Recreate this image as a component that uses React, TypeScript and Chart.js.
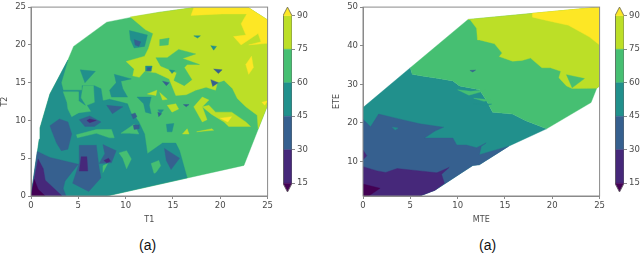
import React, { useEffect, useRef } from "react";
import { Chart, registerables } from "chart.js";

Chart.register(...registerables);

type P = [number, number];

const C15 = "#440154";
const C30 = "#46287a";
const C45 = "#36608f";
const C60 = "#21908c";
const C75 = "#46bf72";
const C90 = "#bcdf27";
const C99 = "#fde725";

const levels = [15, 30, 45, 60, 75, 90];
const bandColors = [C30, C45, C60, C75, C90];
const xTicks = [0, 5, 10, 15, 20, 25];
const leftYTicks = [0, 5, 10, 15, 20, 25];
const rightYTicks = [10, 20, 30, 40, 50];

// ---- left panel contours (T1, T2)
const lHull: P[] = [[0,0],[0.87,7.5],[0.95,9],[2,13.5],[3.9,18],[4.5,19.8],[8,23],[10.8,23.7],[13.5,24.3],[17,24.9],[23,24.9],[25,23.3],[25,12],[22.5,4.05],[8,0]];
const lLime: P[] = [[10.5,23.7],[13.5,24.3],[17,24.9],[23,24.9],[25,23.3],[25,12],[24,8.9],[23.9,10.7],[22.7,11.8],[21.8,12.9],[21.3,14.2],[20.4,15.3],[19.7,15],[19.5,14],[18.5,14.4],[17.4,14],[16.4,13.4],[15.3,13.3],[14.6,15.5],[13.2,16.3],[12,16.5],[11.45,15.7],[10.75,15.9],[10.9,16.8],[10.05,17.8],[12,18.5],[12.4,19.5],[12.9,21.5],[12.1,22]];
const lYellow: P[] = [[17.2,24.9],[16.9,23.9],[20.2,24.1],[22.8,24.1],[22.2,22.8],[22.7,21.3],[21.4,21.1],[22.2,20],[24,21.5],[24.3,20.4],[23,20],[25,20.2],[25,23.3],[23,24.9]];
const lYellowA: P[] = [[22.7,17.4],[23.3,18.5],[23.5,17],[23,16.1]];
const lYellowB: P[] = [[24.4,12.4],[25,12.6],[24.7,12]];
const lYellowC: P[] = [[20,10.3],[21.2,10.5],[20.8,9.8]];
const lTeal: P[] = [[0,0],[0.87,7.5],[0.95,9],[2,13.5],[3.9,18],[3.2,15],[3.4,14],[5.4,14],[5.4,14.6],[6.7,14.6],[7.4,14.2],[7.6,12.6],[8.3,12.8],[9.6,12.4],[10.2,12.2],[10.6,10.9],[10.9,10.7],[11.4,9.8],[12,8.2],[12.3,5.6],[13.9,7],[15.3,7],[15.7,6],[16.5,2.4],[8,0]];
const lTealPatchA: P[] = [[5.2,16.7],[6.8,16.5],[5.7,15]];
const lTealPatchB: P[] = [[8.8,16.1],[10.6,15.5],[9.5,15.2],[9.7,14.2],[10.2,13.1],[8.5,13.1],[8.3,14],[9,15]];
const lTealPatchC: P[] = [[10.4,21.9],[12.3,21.3],[12,19.8],[10.9,19.6],[10.5,20.7]];
const lTealPatchD: P[] = [[12.1,17.2],[12.8,17.2],[12.7,16.5],[12.1,16.5]];
const lTealPatchE: P[] = [[11.2,13.1],[12.7,13.1],[12.5,12],[12.7,10.9],[12.1,11.1],[11.9,12.2]];
const lTealPatchF: P[] = [[14.3,9.5],[15.1,9.6],[14.9,8.5],[14.4,8.5]];
const lTealPatchG: P[] = [[13.4,11.4],[14,11.4],[13.7,10.9]];
const lTealDotA: P[] = [[17.2,21.2],[17.9,21.2],[17.6,20.9]];
const lTealDotB: P[] = [[19,19.9],[19.6,19.8],[19.3,19.3]];
const lTealDotC: P[] = [[14.6,16.7],[15.2,16.6],[14.9,16.2]];
const lGreenA: P[] = [[3.4,13.8],[5,13.8],[5,12.6],[5.8,11.9],[5,11],[4.3,10.5],[3.9,11.5],[3.8,12.4]];
const lGreenB: P[] = [[5.5,14.6],[6.6,14.6],[6.7,12.4],[5.9,12],[6.3,11.2],[4.9,11],[5.8,12],[5.3,13]];
const lGreenC: P[] = [[4.8,8.1],[6.9,8.8],[8.5,8.8],[8.8,7.7],[8.3,7.7],[6.9,8.3],[4.9,7.7]];
const lGreenD: P[] = [[9.3,5.7],[10.1,6],[10.6,4.9],[10.1,3.6],[9.7,5]];
const lGreenE: P[] = [[12.7,4.3],[13.5,4.7],[13.7,4],[13.2,3.1],[13,3]];
const lGreenF: P[] = [[9.5,8.3],[10.9,9.5],[11.4,8.2],[10.4,8.3]];
const lGreenG: P[] = [[7.6,4],[8.1,4.3],[7.6,3.1]];
const lGreenH: P[] = [[13.6,20.7],[14.6,20.9],[14.5,20],[13.6,19.9]];
const lGreenI: P[] = [[13.2,18.3],[14.4,18.3],[15.6,19.4],[17.4,18.8],[16,18.2],[17.8,17.4],[16.5,17.4],[16.2,17],[17,15.4],[16.2,14.6],[15.1,15.3],[15.4,16.3],[13.7,17.2]];
const lLimeA: P[] = [[14.4,12],[15.3,12.2],[15.6,11.5],[14.9,11.1]];
const lLimeB: P[] = [[18.1,11.8],[18.8,12],[19.5,11.1],[21.2,11.1],[22.7,9.8],[23.2,9.2],[20.9,9.2],[20.4,9.8],[19.1,10.8]];
const lLimeC: P[] = [[12.3,13.5],[13.3,14],[13.2,13.3]];
const lLimeD: P[] = [[16,8.2],[16.5,8.9],[16.7,8.2]];
const lLimeE: P[] = [[17.5,8.5],[19.1,8.9],[19.3,8.7]];
const lLimeF: P[] = [[13.6,13.7],[14.4,12.8],[13.9,12.7]];
const lLimeG: P[] = [[18.1,13.1],[17.2,11.8],[18.1,9.8],[18.6,10.1],[18.1,11.8],[18.8,12.7]];
const lBlueA: P[] = [[2,9.3],[3,10.2],[3.9,9.8],[4.3,8.2],[3.9,6.2],[3.2,6],[2.7,7],[2.2,8.6]];
const lBlueB: P[] = [[5.1,6.7],[6.9,6.7],[7.2,3.7],[7.4,2.4],[6.1,0.6],[4.4,1.7],[5.1,4.4]];
const lBlueC: P[] = [[0.66,5.9],[2,5.1],[5,4.2],[3.6,2],[3.4,1],[3.7,0],[0,0]];
const lBlueD: P[] = [[7.6,6.8],[9,6],[8.5,4.4],[7.2,4.3],[7.8,5.6]];
const lBlueE: P[] = [[5.1,10.1],[6.2,10.6],[7.4,9.8],[6.7,9.2],[5.7,9.2]];
const lBlueF: P[] = [[8,12],[9.7,11.8],[8.6,10.9]];
const lBlueG: P[] = [[10.9,20.7],[11.6,20.4],[11.4,19.8],[11,20]];
const lBlueH: P[] = [[12.3,17],[12.7,17],[12.6,16.6],[12.3,16.6]];
const lBlueI: P[] = [[10.6,10.8],[11,11],[11.2,10.5],[10.8,10.2]];
const lBlueI2: P[] = [[10.8,9.4],[11.4,9.4],[11.4,8.9],[10.9,8.8]];
const lBlueJ: P[] = [[14.1,6.3],[15.7,5],[14.8,3.5],[14.3,4.7]];
const lBlueK: P[] = [[19.3,16.8],[20.2,16.7],[19.8,16.2]];
const lBlueL: P[] = [[19,15.4],[19.8,15],[19.2,14.5]];
const lBlueM: P[] = [[13.9,15.2],[14.6,15],[14.3,14.6]];
const lBlueN: P[] = [[13.4,11.1],[13.8,10.9],[13.5,10.5]];
const lBlueO: P[] = [[16.1,12.1],[16.7,12.1],[16.4,11.8]];
const lPurpleA: P[] = [[5.3,5.2],[5.9,5.2],[6,3.3],[5.1,3.3]];
const lPurpleB: P[] = [[7.7,4.7],[8.2,5],[8.4,4.6],[8,4.4]];
const lPurpleC: P[] = [[5.9,10],[6.2,10.2],[6.9,10],[6.2,9.7]];
const lPurpleD: P[] = [[0,0],[0.75,4.9],[1.3,3.6],[1.5,2.1],[3.2,0.1],[3.2,0]];
const lDark: P[] = [[0,0],[0.35,2.2],[0.75,0.9],[1.5,0]];

const leftLayers: [string, P[]][] = [
  [C75, lHull], [C90, lLime], [C99, lYellow], [C99, lYellowA], [C99, lYellowB],
  [C60, lTeal], [C60, lTealPatchA], [C60, lTealPatchB], [C60, lTealPatchC], [C60, lTealPatchD], [C60, lTealPatchE], [C60, lTealPatchF], [C60, lTealPatchG], [C60, lTealDotA], [C60, lTealDotB],
  [C75, lGreenA], [C75, lGreenB], [C75, lGreenC], [C75, lGreenD], [C75, lGreenE], [C75, lGreenF], [C75, lGreenG], [C75, lGreenH], [C75, lGreenI], [C60, lTealDotC],
  [C90, lLimeA], [C90, lLimeB], [C90, lLimeC], [C90, lLimeD], [C90, lLimeE], [C90, lLimeF], [C90, lLimeG], [C99, lYellowC],
  [C45, lBlueA], [C45, lBlueB], [C45, lBlueC], [C45, lBlueD], [C45, lBlueE], [C45, lBlueF], [C45, lBlueG], [C45, lBlueH], [C45, lBlueI], [C45, lBlueI2], [C45, lBlueJ], [C45, lBlueK], [C45, lBlueL], [C45, lBlueM], [C45, lBlueN], [C45, lBlueO],
  [C30, lPurpleA], [C30, lPurpleB], [C30, lPurpleC], [C30, lPurpleD], [C15, lDark],
];

// ---- right panel contours (MTE, ETE)
const rTeal: P[] = [[0,24],[5,34.3],[5.2,32.6],[6.4,32.1],[8,31.5],[9.5,30.9],[10.2,29.6],[12.3,28.6],[13,26],[13.7,22.8],[15.8,22.3],[17.2,20.6],[19.4,18.5],[15.4,14],[12.3,9.2],[11.6,9],[7.6,2.6],[6,1.1],[0,1.1]];
const rGreen: P[] = [[5,34.3],[11.1,46.8],[25,50],[25,29.6],[24.7,29],[24.1,25.3],[19.4,18.5],[17.2,20.6],[15.8,22.3],[13.7,22.8],[13,26],[12.3,28.6],[10.2,29.6],[9.5,30.9],[8,31.5],[6.4,32.1],[5.2,32.6]];
const rLime: P[] = [[11.1,46.8],[25,50],[25,29.6],[24.7,29],[22.1,28.9],[21.5,29.6],[20.7,31.7],[20.9,33.4],[19.8,34.3],[18.9,34.3],[17.7,36.8],[16.8,36.2],[15.8,36],[14.4,37.2],[14.7,38.1],[13.9,40.5],[12.3,41.5],[12.1,41.5],[12,44.5],[11.3,46.8]];
const rYellow: P[] = [[25,50],[25,40.2],[23.9,42.3],[21.7,45.3],[20,46.2],[17.9,47.4],[17.9,48.4]];
const rGreenIsland: P[] = [[21.5,32.5],[23.4,31.5],[22.1,29.1]];
const rGreenStreakA: P[] = [[10,28.6],[11.2,27.2],[12.4,28],[13,28.6],[11.4,28.2]];
const rGreenStreakB: P[] = [[11.7,26.4],[13.5,26],[12.8,25.6]];
const rTealStreak: P[] = [[11.6,25],[13,24.5],[13.6,24.9]];
const rBlueDot: P[] = [[11.3,33.6],[11.9,33.7],[11.6,33.2]];
const rBlue: P[] = [[0,21],[0.8,19],[1.65,22.3],[3.9,21],[6,19.8],[8.5,18.9],[7.6,17.9],[6.5,16.1],[9.5,16.1],[9.9,14.3],[10.9,14.3],[12,13.6],[13,14.8],[12.5,14],[12.3,11.8],[15.4,14],[12.3,9.2],[11.6,9],[7.6,2.6],[6,1.1],[0,1.1]];
const rTealDot: P[] = [[3.1,18.9],[3.7,18.7],[3.4,18.2]];
const rPurple: P[] = [[0,8.7],[1.5,7.6],[2.4,7.2],[3.6,8.2],[6,7.6],[7.8,7.1],[9.1,8.5],[8.3,6.7],[8.6,4.4],[7.6,2.6],[6,1.1],[0,1.1]];
const rPurpleLeft: P[] = [[0,13],[0.4,11.5],[0,10.5]];
const rDark: P[] = [[0,4.2],[1.8,3.1],[0.6,1.1],[0,1.1]];

const rightLayers: [string, P[]][] = [
  [C60, rTeal], [C75, rGreen], [C90, rLime], [C99, rYellow], [C75, rGreenIsland],
  [C75, rGreenStreakA], [C75, rGreenStreakB], [C60, rTealStreak], [C45, rBlueDot],
  [C45, rBlue], [C60, rTealDot], [C30, rPurple], [C30, rPurpleLeft], [C15, rDark],
];

const FONT = "'DejaVu Sans'";
const INK = "#4a4a4a";
const SPINE = "#8a8a8a";

const polyDataset = (color: string, pts: P[]) => ({
  data: [...pts, pts[0]].map(([x, y]) => ({ x, y })),
  showLine: true,
  fill: "shape",
  backgroundColor: color,
  borderColor: color,
  borderWidth: 0.4,
  pointRadius: 0,
  tension: 0,
});

// Chart.js paints the first dataset last, so layers are handed over top-first.
const painterOrder = <T,>(items: T[]) => [...items].reverse();

const frame = {
  id: "frame",
  afterDraw(chart: any) {
    const { ctx, chartArea: a } = chart;
    ctx.save();
    ctx.strokeStyle = SPINE;
    ctx.lineWidth = 1;
    ctx.strokeRect(a.left, a.top, a.right - a.left, a.bottom - a.top);
    ctx.restore();
  },
};

function makePanel(canvas: HTMLCanvasElement, layers: [string, P[]][], xName: string, yName: string, yMin: number, yMax: number, yTicks: number[], axisLeft: number) {
  return new Chart(canvas, {
    type: "scatter",
    data: { datasets: painterOrder(layers).map(([c, p]) => polyDataset(c, p)) as any },
    plugins: [frame],
    options: {
      animation: false,
      responsive: false,
      layout: { padding: { top: 3, right: 6, left: 0, bottom: 0 } },
      plugins: { legend: { display: false }, tooltip: { enabled: false } },
      scales: {
        x: {
          type: "linear", min: 0, max: 25,
          afterBuildTicks: (s: any) => { s.ticks = xTicks.map((value) => ({ value })); },
          afterFit: (s: any) => { s.height = 29; },
          grid: { drawOnChartArea: false, tickLength: 3, color: SPINE },
          border: { color: SPINE },
          ticks: { color: INK, font: { family: FONT, size: 8.5 }, padding: 2, maxRotation: 0, autoSkip: false },
          title: { display: true, text: xName, color: INK, font: { family: FONT, size: 8 }, padding: { top: 3, bottom: 0 } },
        },
        y: {
          type: "linear", min: yMin, max: yMax,
          afterBuildTicks: (s: any) => { s.ticks = yTicks.map((value) => ({ value })); },
          afterFit: (s: any) => { s.width = axisLeft; },
          grid: { drawOnChartArea: false, tickLength: 3, color: SPINE },
          border: { color: SPINE },
          ticks: { color: INK, font: { family: FONT, size: 8.5 }, padding: 2, autoSkip: false },
          title: { display: true, text: yName, color: INK, font: { family: FONT, size: 8 }, padding: 0 },
        },
      },
    } as any,
  });
}

function makeColorbar(canvas: HTMLCanvasElement) {
  const bands = bandColors.map((c, i) => polyDataset(c, [[0, levels[i]], [1, levels[i]], [1, levels[i + 1]], [0, levels[i + 1]]]));
  const low = polyDataset(C15, [[0, 15], [1, 15], [0.5, 11.14]]);
  const high = polyDataset(C99, [[0, 90], [1, 90], [0.5, 93.86]]);
  const outlinePts: P[] = [[0, 15], [0.5, 11.14], [1, 15], [1, 90], [0.5, 93.86], [0, 90]];
  const outline = { ...polyDataset("#000", outlinePts), fill: false, borderColor: "#666", borderWidth: 0.8 };
  return new Chart(canvas, {
    type: "scatter",
    data: { datasets: [outline, high, low, ...bands] as any },
    options: {
      animation: false,
      responsive: false,
      layout: { padding: { top: 3, bottom: 3, left: 0, right: 0 } },
      plugins: { legend: { display: false }, tooltip: { enabled: false } },
      scales: {
        x: { type: "linear", min: 0, max: 1, display: false },
        y: {
          type: "linear", position: "right", min: 11.14, max: 93.86,
          afterBuildTicks: (s: any) => { s.ticks = levels.map((value) => ({ value })); },
          grid: { drawOnChartArea: false, tickLength: 3, color: SPINE },
          border: { display: false },
          ticks: { color: INK, font: { family: FONT, size: 8.5 }, padding: 2, autoSkip: false },
          afterFit: (s: any) => { s.width = 27; },
        },
      },
    } as any,
  });
}

const boxes = {
  leftMain: { left: 0, top: 0, width: 275, height: 225 },
  leftBar: { left: 283, top: 0, width: 36, height: 199 },
  rightMain: { left: 332, top: 0, width: 275, height: 225 },
  rightBar: { left: 615, top: 0, width: 36, height: 199 },
};

export default function App() {
  const a = useRef<HTMLCanvasElement>(null);
  const b = useRef<HTMLCanvasElement>(null);
  const c = useRef<HTMLCanvasElement>(null);
  const d = useRef<HTMLCanvasElement>(null);
  useEffect(() => {
    const charts = [
      makePanel(a.current!, leftLayers, "T1", "T2", 0, 25, leftYTicks, 31),
      makeColorbar(b.current!),
      makePanel(c.current!, rightLayers, "MTE", "ETE", 1.1, 50, rightYTicks, 31),
      makeColorbar(d.current!),
    ];
    return () => charts.forEach((ch) => ch.destroy());
  }, []);
  const st = (r: { left: number; top: number; width: number; height: number }) =>
    ({ position: "absolute", left: r.left, top: r.top, width: r.width, height: r.height, filter: "blur(0.4px)" } as React.CSSProperties);
  const cap: React.CSSProperties = { position: "absolute", top: 236, fontFamily: "'Liberation Sans'", fontSize: 14, color: "#111", lineHeight: "18px" };
  return (
    <div style={{ position: "absolute", left: 0, top: 0, width: 640, height: 254, overflow: "hidden", background: "#fff" }}>
      <canvas ref={a} width={boxes.leftMain.width} height={boxes.leftMain.height} style={st(boxes.leftMain)} />
      <canvas ref={b} width={boxes.leftBar.width} height={boxes.leftBar.height} style={st(boxes.leftBar)} />
      <canvas ref={c} width={boxes.rightMain.width} height={boxes.rightMain.height} style={st(boxes.rightMain)} />
      <canvas ref={d} width={boxes.rightBar.width} height={boxes.rightBar.height} style={st(boxes.rightBar)} />
      <span style={{ ...cap, left: 139 }}>(a)</span>
      <span style={{ ...cap, left: 479 }}>(a)</span>
    </div>
  );
}
